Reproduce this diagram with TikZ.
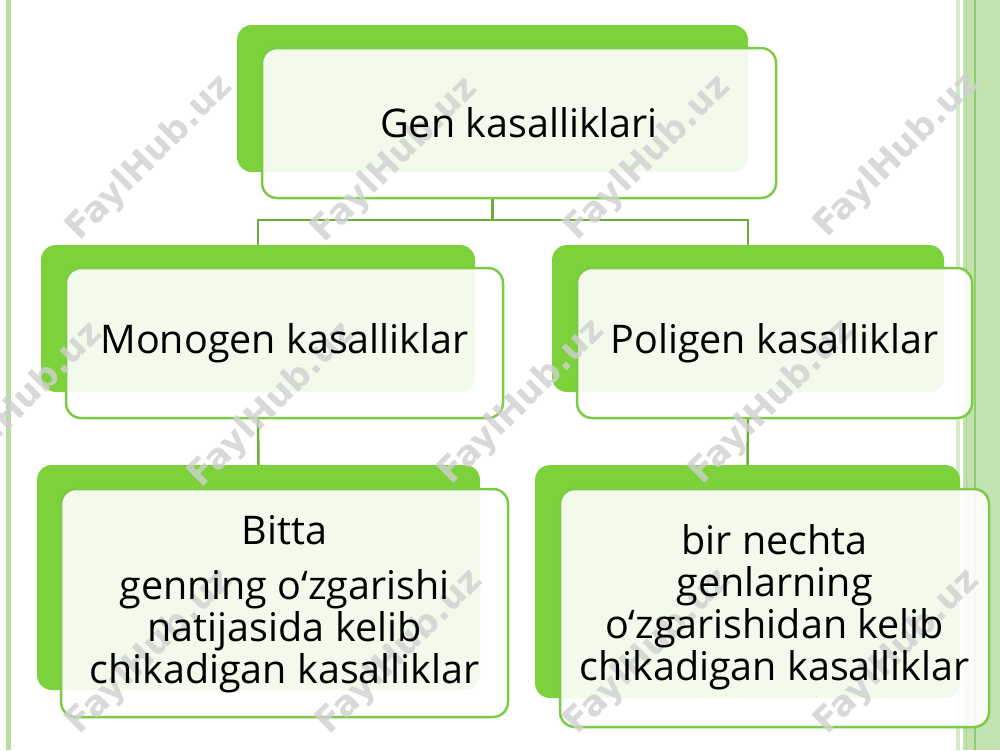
\documentclass[tikz,border=0pt]{standalone}
\usepackage{fontspec}
\setmainfont{Open Sans}
\newfontfamily\wmfont{DejaVu Sans}
\definecolor{backgreen}{HTML}{7DD13B}
\definecolor{framegreen}{HTML}{7CCB46}
\definecolor{linkgreen}{HTML}{6EAD3C}
\definecolor{bandlight}{HTML}{C2E2B0}
\definecolor{banddark}{HTML}{94CC70}
\definecolor{bandthin}{HTML}{D5EBC8}
\definecolor{bandmid}{HTML}{A9D690}
\definecolor{leftline}{HTML}{B5DD9E}
\definecolor{wmgray}{HTML}{D0D0D0}
\tikzset{
  backbox/.style={draw=none, fill=backgreen, rounded corners=15pt, inner sep=0pt},
  frontbox/.style={draw=framegreen, line width=2.5pt, fill=white, fill opacity=0.9, rounded corners=15pt, inner sep=0pt},
  label text/.style={inner sep=0pt, align=center, font=\fontsize{39.5}{42}\selectfont},
  link/.style={draw=linkgreen, line width=2.5pt},
  wm/.style={text=wmgray, opacity=0.8, rotate=45, font=\wmfont\bfseries\fontsize{35}{35}\selectfont}
}
\begin{document}
\begin{tikzpicture}[x=1pt,y=-1pt]
\useasboundingbox (0,0) rectangle (1000,750);
\fill[white] (0,0) rectangle (1000,750);
% decorative side bands
\fill[leftline] (6,0) rectangle (11,750);
\fill[bandthin] (956,0) rectangle (960,750);
\fill[bandlight] (963,0) rectangle (1000,750);
\draw[banddark, line width=1.5pt] (975,0) -- (975,750);
\draw[bandmid, line width=1pt] (966,0) -- (966,750);
% back boxes
\node[backbox, minimum width=511, minimum height=147] (tb) at (492.5,98.5) {};
\node[backbox, minimum width=434, minimum height=147] (mlb) at (258,318.5) {};
\node[backbox, minimum width=392, minimum height=147] (mrb) at (748,318.5) {};
\node[backbox, minimum width=443, minimum height=225] (blb) at (258.5,577.5) {};
\node[backbox, minimum width=425, minimum height=233] (brb) at (747.5,581.5) {};
% connectors
\draw[link] (tb.south |- 0,198) -- ++(0,22) -| (mlb.north);
\draw[link] (tb.south |- 0,198) ++(0,22) -| (mrb.north);
\draw[link] (mlb.south |- 0,418) -- (blb.north);
\draw[link] (mrb.south |- 0,418) -- (brb.north);
% front boxes
\node[frontbox, minimum width=514, minimum height=150] (tf) at (519,123) {};
\node[frontbox, minimum width=437, minimum height=150] (mlf) at (284.5,343) {};
\node[frontbox, minimum width=395, minimum height=150] (mrf) at (774.5,343) {};
\node[frontbox, minimum width=447, minimum height=228] (blf) at (284.5,603) {};
\node[frontbox, minimum width=429, minimum height=238] (brf) at (774.5,608) {};
% watermarks
\foreach \wx/\wy [count=\i] in {150/158,395/160,648/158,897/155,20/405,272/405,522/402,772/402,150/652,400/652,648/652,897/652}
  \node[wm] (wm\i) at (\wx,\wy) {FaylHub.uz};
% texts
\node[label text] (tft) at (tf.center) {Gen kasalliklari};
\node[label text] (mlft) at (mlf.center) {Monogen kasalliklar};
\node[label text] (mrft) at (mrf.center) {Poligen kasalliklar};
\node[label text] (blft) at ([yshift=-1pt]blf.center) {Bitta\\[13pt]genning o‘zgarishi\\natijasida kelib\\chikadigan kasalliklar};
\node[label text] (brft) at ([yshift=1pt]brf.center) {bir nechta\\genlarning\\o‘zgarishidan kelib\\chikadigan kasalliklar};
\end{tikzpicture}
\end{document}
